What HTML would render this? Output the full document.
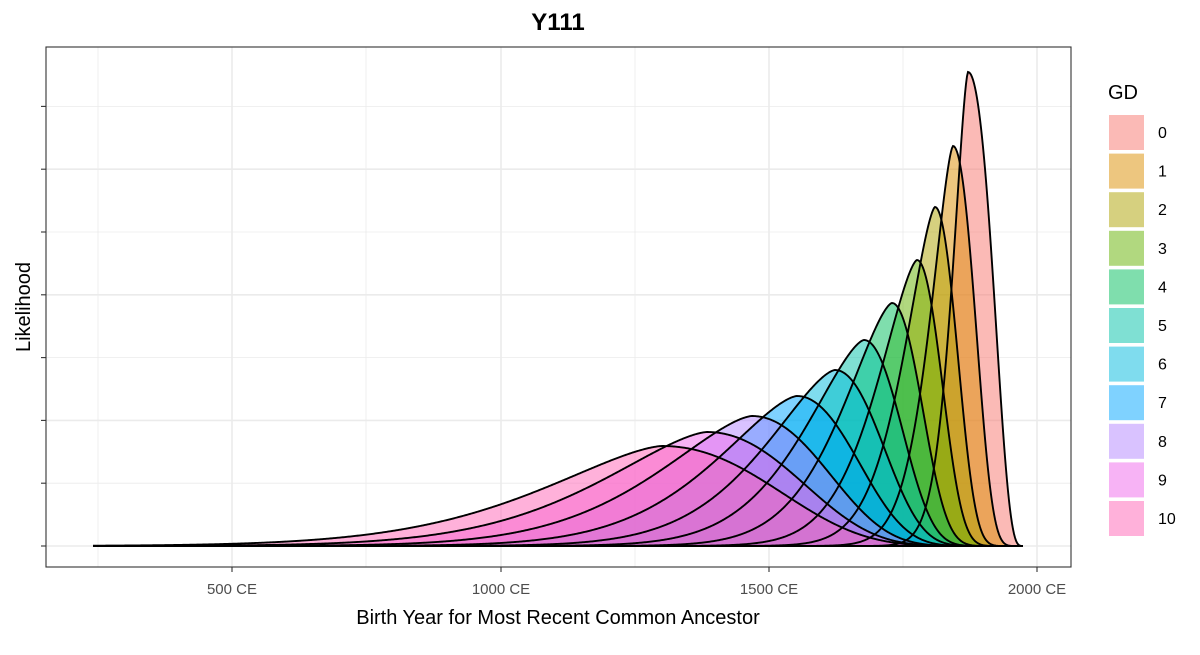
<!DOCTYPE html>
<html><head><meta charset="utf-8"><style>
body{margin:0;background:#fff;font-family:"Liberation Sans",sans-serif;}
</style></head><body>
<svg id="s" width="1200" height="650" xmlns="http://www.w3.org/2000/svg" font-family="Liberation Sans, sans-serif">
<rect width="1200" height="650" fill="#fff"/>
<g id="grid" stroke="#ebebeb"></g>
<g id="fills"></g>
<g id="lines"></g>
<rect x="46" y="47" width="1025" height="520" fill="none" stroke="#333" stroke-width="1.1"/>
<g id="ticks" stroke="#333" stroke-width="1.1"></g>
<g font-size="15" fill="#4d4d4d" text-anchor="middle">
<text x="232" y="594">500 CE</text><text x="501" y="594">1000 CE</text><text x="769" y="594">1500 CE</text><text x="1037" y="594">2000 CE</text>
</g>
<text x="558" y="624" font-size="20" text-anchor="middle" fill="#000">Birth Year for Most Recent Common Ancestor</text>
<text x="30" y="307" font-size="20" text-anchor="middle" fill="#000" transform="rotate(-90 30 307)">Likelihood</text>
<text x="558" y="30" font-size="24" font-weight="bold" text-anchor="middle" fill="#000">Y111</text>
<text x="1108" y="99" font-size="20" fill="#000">GD</text>
<g id="leg"></g>
</svg>
<script>
var ns="http://www.w3.org/2000/svg";
function el(p,t,a){var e=document.createElementNS(ns,t);for(var k in a)e.setAttribute(k,a[k]);p.appendChild(e);return e;}
var g=document.getElementById('grid');
[98,366,635,903].forEach(x=>el(g,'line',{x1:x,x2:x,y1:47,y2:567,'stroke-width':0.8}));
[232,501,769,1037].forEach(x=>el(g,'line',{x1:x,x2:x,y1:47,y2:567,'stroke-width':1.6}));
for(var i=0;i<8;i++){var y=546-i*62.8;el(g,'line',{x1:46,x2:1071,y1:y,y2:y,'stroke-width':i%2?0.8:1.6});}
var t=document.getElementById('ticks');
[232,501,769,1037].forEach(x=>el(t,'line',{x1:x,x2:x,y1:567,y2:572}));
for(var i=0;i<8;i++){var y=546-i*62.8;el(t,'line',{x1:41,x2:46,y1:y,y2:y});}
var cols=['#F8766D','#DB8E00','#AEA200','#64B200','#00BD5C','#00C1A7','#00BADE','#00A6FF','#B385FF','#EF67EB','#FF63B6'];
var peaks=[[968,72],[953,146],[935,207],[917,260],[892,303],[864,340],[835,370],[797,396],[752,416],[707,432],[662,446]];
var end=1023,base=546,F=document.getElementById('fills'),Ln=document.getElementById('lines');
for(var k=0;k<11;k++){
 var p=peaks[k][0],m=end-p,H=base-peaks[k][1];
 var L=18+8*k+0.4*k*k, R=27-3.82*k+1.362*k*k;
 var uh=(m-R)/m, a=Math.log(0.5)/(Math.log(uh)+1-uh);
 var pts=[];
 for(var x=93;x<=end;x+=1){
  var f;
  if(x<=p){var z=(p-x)/L;f=H*Math.exp(-Math.LN2*Math.pow(z,1.5));}
  else{var u=(end-x)/m;f=u<=0?0:H*Math.exp(a*(Math.log(u)+1-u));}
  pts.push(x+","+(base-f).toFixed(2));
 }
 var d="M"+pts.join(" L");
 el(F,'path',{d:d+" L"+end+","+base+" L93,"+base+" Z",fill:cols[k],'fill-opacity':0.5,stroke:'none'});
 el(Ln,'path',{d:d,fill:'none',stroke:'#000','stroke-width':1.9});
}
el(Ln,'line',{x1:93,x2:end,y1:base,y2:base,stroke:'#000','stroke-width':2});
var Lg=document.getElementById('leg');
for(var k=0;k<11;k++){var y=115+k*38.6;
 el(Lg,'rect',{x:1109,y:y,width:35,height:35,fill:cols[k],'fill-opacity':0.5});
 var tx=el(Lg,'text',{x:1158,y:y+23,'font-size':16,fill:'#000'});tx.textContent=k;}
</script>
</body></html>
